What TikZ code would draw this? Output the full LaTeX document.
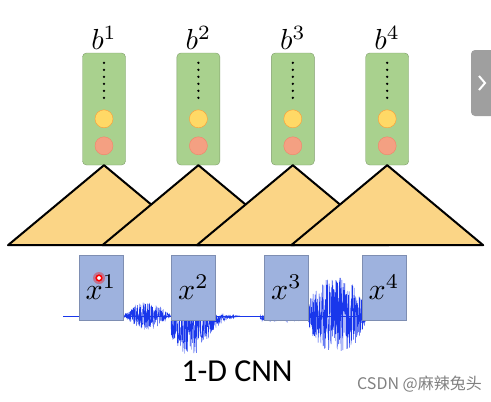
\RequirePackage{fix-cm}
\documentclass[tikz,border=0pt]{standalone}
\usepackage{fontspec}
\usepackage{xcolor}
\usepackage{tikz}
\usetikzlibrary{positioning, calc}
\newfontfamily\cnnfont{Carlito}
\newfontfamily\cjkfont{Noto Sans CJK SC}
\definecolor{boxgreen}{RGB}{169,209,142}
\definecolor{boxblue}{RGB}{158,178,222}
\definecolor{kernelfill}{RGB}{251,213,134}
\definecolor{waveblue}{RGB}{25,55,235}
\definecolor{unityellow}{RGB}{255,217,102}
\definecolor{unitorange}{RGB}{244,160,130}

\begin{document}
\begin{tikzpicture}[
    x = 1pt, y = -1pt,
    hidden/.style = {
      rectangle, draw = boxgreen!75!black, fill = boxgreen, rounded corners = 4pt,
      inner sep = 0pt, minimum width = 43pt, minimum height = 112pt
    },
    unit/.style = {
      circle, thin, inner sep = 0pt, minimum size = 18pt
    },
    input/.style = {
      rectangle, draw = boxblue!80!black, fill = boxblue, inner sep = 0pt,
      minimum width = 44pt, minimum height = 65pt
    },
    kernel/.style = {
      draw, line width = 2pt, fill = kernelfill, line join = round
    },
    wave/.style = {
      draw = waveblue, line width = 0.4pt
    },
    outlabel/.style = {
      inner sep = 1pt
    },
    ]
    \useasboundingbox (0,0) rectangle (491,402);

    % draw hidden units
    \node  [hidden]  (h1)  at (104,109)  {};
    \foreach \i [remember = \i as \lasti (initially 1)] in {2, ..., 4}
    \node  [hidden]  (h\i)  [right = 51pt of h\lasti]  {};

    \foreach \i in {1, ..., 4} {
      \node  [outlabel]  (b\i)  [above = 2pt of h\i]  {\scalebox{2.9}{$b^{\i}$}};
      \foreach \k in {0, ..., 5}
      \fill  ($(h\i.north)+(0,10+7*\k)$)  circle[radius = 1.3pt];
      \node  [unit, draw = orange!80, fill = unityellow]  (y\i)  at ($(h\i.north)+(0,66)$)  {};
      \node  [unit, draw = unitorange!80!red, fill = unitorange]  (o\i)  at ($(h\i.north)+(0,93)$)  {};
    }

    % draw filters
    \foreach \i in {1, ..., 4}
    \draw  [kernel]  ($(h\i.south)+(-96,80)$)  --  (h\i.south)  --  ($(h\i.south)+(96,80)$)  --  cycle;

    % draw waveform
    \pgfmathsetseed{11}
    \draw  [wave]  (63,316)  --  (400,316);
    \draw  [wave]  plot[domain = 123:171, samples = 260]
      (\x, {316 + 14*sin(180*(\x-123)/48)*rand});
    \draw  [wave]  plot[domain = 171:240, samples = 380]
      (\x, {316 + 40*exp(-((\x-190)/24)^2)*(0.65*rand+0.35)});
    \draw  [wave]  plot[domain = 260:300, samples = 120]
      (\x, {318 + 3*rand});
    \draw  [wave]  plot[domain = 307:366, samples = 360]
      (\x, {315 + 38*sin(180*(\x-307)/59)^0.5*rand});

    % draw inputs
    \node  [input]  (x1)  at (101,287.5)    {\scalebox{3}{$x^{1}$}};
    \node  [input]  (x2)  at (193.5,287.5)  {\scalebox{3}{$x^{2}$}};
    \node  [input]  (x3)  at (286.5,287.5)  {\scalebox{3}{$x^{3}$}};
    \node  [input]  (x4)  at (384,287.5)    {\scalebox{3}{$x^{4}$}};

    % pointer
    \fill  [red, opacity = 0.35]  (99,278)  circle[radius = 6pt];
    \draw  [red, line width = 1.5pt, fill = white]  (99,278)  circle[radius = 2.8pt];

    \node  (title)  at (237,371)  {\cnnfont\fontsize{32}{36}\selectfont 1-D CNN};
    \node  [text = gray, anchor = east, inner sep = 0pt]  (mark)  at (482,384)
      {\cjkfont\fontsize{16}{18}\selectfont CSDN @麻辣兔头};

    % side tab
    \fill  [gray!75]  (491,50)  [rounded corners = 4pt]  --  (471,50)  --  (471,116)
      [sharp corners]  --  (491,116)  --  cycle;
    \draw  [white, line width = 2pt]  (479,76)  --  (485,83)  --  (479,90);
\end{tikzpicture}
\end{document}
